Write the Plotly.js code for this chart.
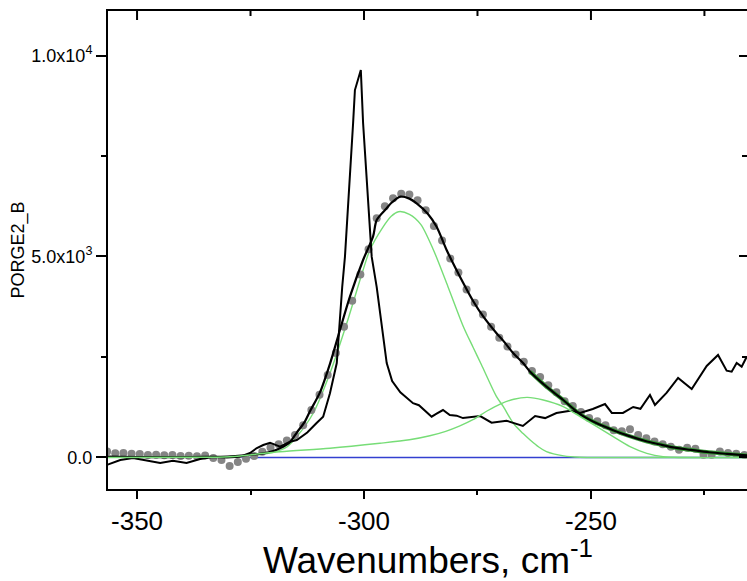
<!DOCTYPE html>
<html>
<head>
<meta charset="utf-8">
<script src="https://cdn.plot.ly/plotly-3.0.1.min.js"></script>
<style>
html,body{margin:0;padding:0;overflow:hidden;background:#fff;}
#chart{width:750px;height:581px;}
</style>
</head>
<body>
<div id="chart"></div>
<script>
// Measured spectrum (grey dots)
const dotX = [-356.6,-354.8,-353.0,-351.2,-349.4,-347.6,-345.8,-344.0,-342.2,-340.4,-338.6,-336.8,-335.0,-333.2,-331.4,-329.6,-327.8,-326.0,-324.2,-322.4,-320.6,-318.8,-317.0,-315.2,-313.4,-311.6,-309.8,-308.0,-306.2,-304.4,-302.6,-300.8,-299.0,-297.2,-295.4,-293.6,-291.8,-290.0,-288.2,-286.4,-284.6,-282.8,-281.0,-279.2,-277.4,-275.6,-273.8,-272.0,-270.2,-268.4,-266.6,-264.8,-263.0,-261.2,-259.4,-257.6,-255.8,-254.0,-252.2,-250.4,-248.6,-246.8,-245.0,-243.2,-241.4,-239.6,-237.8,-236.0,-234.2,-232.4,-230.6,-228.8,-227.0,-225.2,-223.4,-221.6,-219.8,-218.0,-216.2];
const dotY = [150,105,110,95,85,60,70,55,60,40,45,30,50,-10,-60,-210,-110,-30,40,140,250,330,420,560,800,1180,1560,2050,2600,3250,3900,4550,5180,5950,6250,6450,6560,6540,6400,6150,5760,5400,4950,4600,4180,3850,3560,3250,2980,2760,2560,2380,2150,2000,1800,1620,1400,1280,1130,980,900,800,680,650,700,560,480,400,330,270,190,240,220,70,70,150,110,90,60];

// Cumulative fit (black)
const fitX = [-356.4,-350,-340,-335,-330,-327,-325,-322.2,-320,-318.5,-316.5,-314.8,-313,-311.9,-309.7,-307.5,-305.3,-303.1,-300.2,-298,-297.2,-295,-294,-292,-290,-288.4,-286,-284,-281.8,-278.1,-276,-273.7,-270.8,-269.3,-267.1,-264.9,-263.4,-259.8,-256.1,-252.4,-248.7,-245.1,-242,-238,-235,-231.9,-228,-224,-220,-215.4];
const fitY = [20,10,10,15,25,45,70,104,160,229,360,620,900,1150,1620,2330,3172,4000,4913,5500,5908,6200,6330,6490,6440,6323,6070,5741,5162,4333,3900,3502,3090,2900,2592,2343,2134,1761,1430,1080,850,680,550,410,330,250,190,130,90,50];

// Fitted component 1 (green)
const p1X = [-356.4,-340,-330,-325,-320,-317,-314.8,-311.2,-307.5,-303.8,-300.2,-298.7,-296,-294,-292.4,-290,-287.5,-284.7,-281.5,-278.1,-276,-274.1,-270.8,-269.3,-267.1,-265,-263.4,-261.5,-259.8,-256,-252.4,-245,-215.4];
const p1Y = [5,10,20,50,130,260,518,1100,2095,3338,4664,5162,5700,6000,6114,6050,5800,5162,4250,3254,2750,2300,1512,1264,851,600,435,260,144,40,5,0,0];

// Fitted component 2 (green)
const p2X = [-356.4,-340,-329.5,-318.5,-307.5,-296.5,-290,-285.5,-282,-279,-276,-273,-270,-267,-264,-260.5,-256.1,-252.4,-248.7,-245.1,-241.4,-237.7,-234.1,-230,-215.4];
const p2Y = [0,5,20,144,229,353,440,540,650,780,940,1150,1330,1450,1495,1430,1264,1015,766,517,269,104,20,0,0];

// Second spectrum (black jagged line)
const specX = [-356.7,-353.7,-350.9,-347.9,-344.9,-342.1,-339.1,-336.1,-333.3,-330.2,-327.3,-325.1,-323.6,-322.2,-320.7,-318.5,-316.3,-314.8,-312.5,-310.5,-309.0,-307.5,-306.0,-304.8,-304.2,-302.4,-302.0,-300.7,-300.2,-298.3,-297.2,-295.0,-293.8,-292.0,-290.6,-289.2,-287.9,-286.8,-285.1,-284.0,-282.6,-281.1,-279.6,-278.2,-276.5,-274.4,-271.9,-268.6,-265.0,-262.3,-260.1,-257.6,-254.6,-252.4,-249.6,-246.9,-245.4,-242.95,-240.7,-239.1,-237.0,-235.9,-233.3,-230.8,-227.8,-224.5,-222.0,-220.1,-219.0,-217.9,-216.8,-215.7];
const specY = [-187,-62,-12,-80,-137,-80,-137,-37,12,0,20,112,236,311,368,269,393,435,620,850,1015,1600,2350,4240,4990,8320,9140,9640,8320,4990,4240,2350,1900,1620,1480,1350,1300,1190,1015,1090,1180,1057,1040,980,1010,1030,866,915,784,1032,980,1107,1165,1107,1206,1330,1107,1107,1256,1210,1555,1306,1612,1978,1704,2276,2550,2159,2134,2350,2259,2500];

// Zero baseline (blue)
const baseX = [-327, -215.4];
const baseY = [0, 0];

// Axis ticks
const xTickVals = [-350, -300, -250, -200];
const xTickText = ["-350", "-300", "-250", "-200"];
const xMinorVals = [-325, -275, -225];
const yTickVals = [0, 5000, 10000];
const yTickText = ["0.0", "5.0x10<sup>3</sup>", "1.0x10<sup>4</sup>"];

const xRange = [-356.4, -215.4];
const yRange = [-784, 11107];

const FONT = "Liberation Sans, Arial, sans-serif";
const W = 750, H = 581, M = {l: 108, r: 2, t: 11, b: 92};
const plotH = H - M.t - M.b;

// green underlay of the fit on its right-hand part
const tailStart = fitX.findIndex(v => v >= -264);
const fitTailX = fitX.slice(tailStart);
const fitTailY = fitY.slice(tailStart);

const traces = [
  {x: baseX, y: baseY, mode: 'lines', line: {color: '#3340d0', width: 1.3}},
  {x: p1X, y: p1Y, mode: 'lines', line: {color: '#77dd77', width: 1.4, shape: 'spline', smoothing: 0.8}},
  {x: p2X, y: p2Y, xaxis: 'x', yaxis: 'y2', mode: 'lines', line: {color: '#77dd77', width: 1.4, shape: 'spline', smoothing: 0.8}},
  {x: dotX, y: dotY, mode: 'markers', marker: {color: '#858585', size: 8}},
  {x: fitTailX, y: fitTailY, mode: 'lines', line: {color: '#3a9a3a', width: 4, shape: 'spline', smoothing: 0.8}},
  {x: specX, y: specY, mode: 'lines', line: {color: '#000', width: 2}},
  {x: fitX, y: fitY, mode: 'lines', line: {color: '#000', width: 2.2, shape: 'spline', smoothing: 0.8}}
];

// inward tick marks hanging from the top frame (length given in pixels)
const unitsPerPx = (yRange[1] - yRange[0]) / plotH;
const topTick = (v, len) => ({
  type: 'line', xref: 'x', yref: 'y', layer: 'above',
  x0: v, x1: v, y0: yRange[1], y1: yRange[1] - len * unitsPerPx,
  line: {color: '#000', width: 2}
});
const inRange = v => v > xRange[0] && v < xRange[1];
const shapes = xTickVals.filter(inRange).map(v => topTick(v, 9))
  .concat(xMinorVals.filter(inRange).map(v => topTick(v, 5)));

const layout = {
  width: W, height: H,
  margin: {l: M.l, r: M.r, t: M.t, b: M.b, pad: 0},
  paper_bgcolor: '#fff', plot_bgcolor: '#fff',
  showlegend: false,
  font: {family: FONT, color: '#000'},
  shapes: shapes,
  xaxis: {
    range: xRange, showgrid: false, zeroline: false,
    showline: true, mirror: true, linecolor: '#000', linewidth: 2,
    tickmode: 'array', tickvals: xTickVals, ticktext: xTickText,
    ticks: 'outside', ticklen: 8, tickwidth: 2, tickcolor: '#000',
    minor: {tickmode: 'array', tickvals: xMinorVals, ticks: 'outside', ticklen: 4, tickwidth: 2, tickcolor: '#000'},
    tickfont: {size: 26, family: FONT, color: '#000'},
    title: {text: 'Wavenumbers, cm<sup>-1</sup>', font: {size: 37, family: FONT, color: '#000'}, standoff: 8}
  },
  yaxis: {
    range: yRange, showgrid: false, zeroline: false,
    showline: true, linecolor: '#000', linewidth: 2,
    tickmode: 'array', tickvals: yTickVals, ticktext: yTickText,
    ticks: 'outside', ticklen: 10, tickwidth: 2, tickcolor: '#000',
    minor: {tickmode: 'linear', tick0: 0, dtick: 2500, ticks: 'outside', ticklen: 5, tickwidth: 2, tickcolor: '#000'},
    tickfont: {size: 18, family: FONT, color: '#000'},
    title: {text: 'PORGE2_B', font: {size: 18, family: FONT, color: '#000'}, standoff: 2}
  },
  yaxis2: {
    range: yRange, overlaying: 'y', side: 'right', anchor: 'x',
    showgrid: false, zeroline: false, showline: true, linecolor: '#000', linewidth: 2,
    tickmode: 'linear', tick0: 0, dtick: 5000, showticklabels: false,
    ticks: 'inside', ticklen: 9, tickwidth: 2, tickcolor: '#000',
    minor: {tickmode: 'linear', tick0: 0, dtick: 2500, ticks: 'inside', ticklen: 6, tickwidth: 2, tickcolor: '#000'}
  }
};

Plotly.newPlot('chart', traces, layout, {staticPlot: true, displayModeBar: false});
</script>
</body>
</html>
